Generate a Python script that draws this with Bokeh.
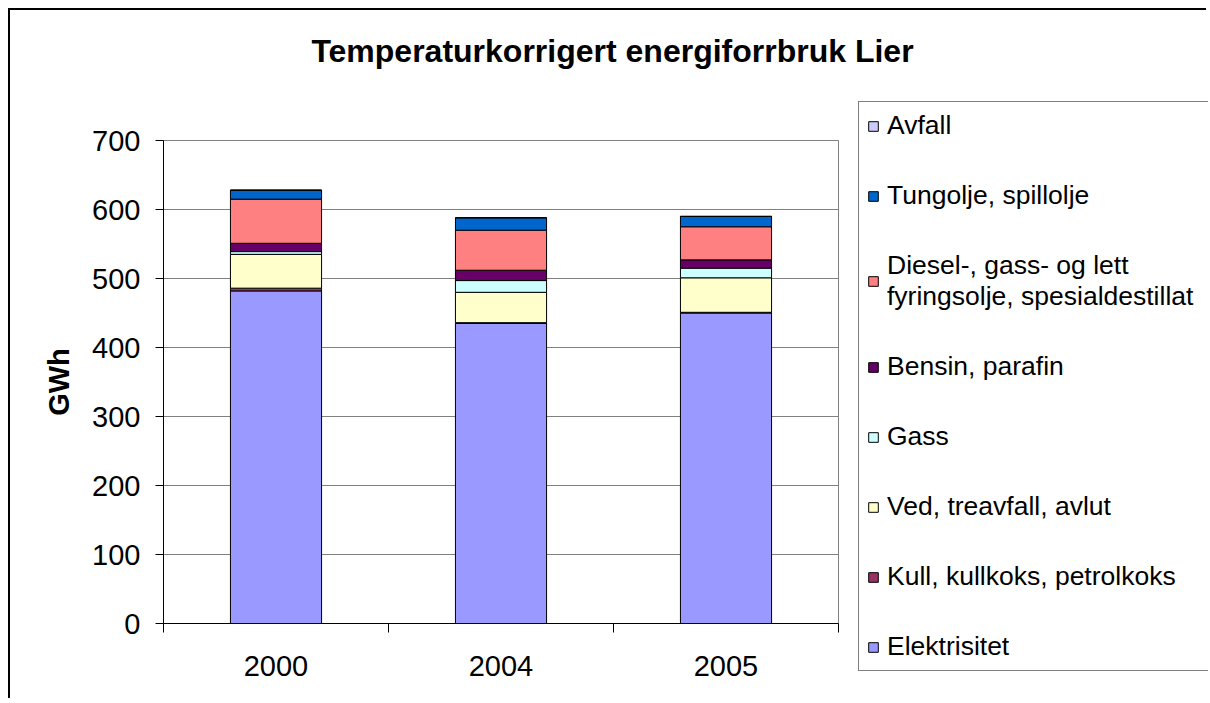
from bokeh.plotting import figure
from bokeh.models import (ColumnDataSource, Legend, LegendItem, FixedTicker, Range1d,
                          Label, LinearAxis)
from bokeh.embed import file_html
from bokeh.resources import INLINE

years = ["2000", "2004", "2005"]
series = [
    "Elektrisitet",
    "Kull, kullkoks, petrolkoks",
    "Ved, treavfall, avlut",
    "Gass",
    "Bensin, parafin",
    "Diesel-, gass- og lett\nfyringsolje, spesialdestillat",
    "Tungolje, spillolje",
    "Avfall",
]
elektrisitet = [482, 435, 450]
kull = [4, 1, 1]
ved = [49, 44, 50]
gass = [4, 17, 14]
bensin = [12, 15, 12]
diesel = [64, 58, 48]
tungolje = [13, 18, 15]
avfall = [0, 0, 0]
y_ticks = [0, 100, 200, 300, 400, 500, 600, 700]
colors = ["#9999FF", "#993366", "#FFFFCC", "#CCFFFF", "#660066", "#FF8080", "#0066CC", "#CCCCFF"]
title_text = "Temperaturkorrigert energiforrbruk Lier"

FONT = "Liberation Sans"

# ---- layout (canvas pixels, origin top-left) ----
CW, CH = 1198, 690
AX_L, AX_R, AX_T, AX_B = 153, 828, 130, 613
n = len(years)
ymax = y_ticks[-1]
sx = (AX_R - AX_L) / n
sy = (AX_B - AX_T) / ymax
x_range = Range1d(-AX_L / sx, n + (CW - AX_R) / sx)
y_range = Range1d(-(CH - AX_B) / sy, ymax + AX_T / sy)

keys = ["s%d" % i for i in range(len(series))]
data = {"x": [i + 0.5 for i in range(n)]}
for k, vals in zip(keys, [elektrisitet, kull, ved, gass, bensin, diesel, tungolje, avfall]):
    data[k] = vals
src = ColumnDataSource(data)

p = figure(width=CW, height=CH, x_range=x_range, y_range=y_range,
           output_backend="svg", toolbar_location=None,
           x_axis_location=None, y_axis_location=None, min_border=0)
p.styles = {"border-left": "2px solid black", "border-top": "2px solid black",
            "margin-left": "8px", "margin-top": "8px"}
p.background_fill_color = "white"
p.border_fill_color = "white"
p.outline_line_color = None
p.grid.visible = False

# plot-area gridlines (inside the plot area only)
grid_y = y_ticks[1:-1]
p.segment(x0=[0] * len(grid_y), x1=[n] * len(grid_y), y0=grid_y, y1=grid_y,
          line_color="#808080", line_width=1)

rs = p.vbar_stack(keys, x="x", width=0.405, source=src, fill_color=colors,
                  line_color="black", line_width=1)

# plot-area border
p.quad(left=[0], right=[n], bottom=[0], top=[ymax], fill_color=None,
       line_color="#808080", line_width=1)

# x axis: labels at centres, ticks at category boundaries
xaxis = LinearAxis(fixed_location=0, bounds=(0, n))
xaxis.ticker = FixedTicker(ticks=[i + 0.5 for i in range(n)],
                           minor_ticks=[float(i) for i in range(n + 1)])
xaxis.major_label_overrides = {i + 0.5: y for i, y in enumerate(years)}
xaxis.major_tick_line_color = None
xaxis.major_tick_out = 0
xaxis.major_tick_in = 0
xaxis.minor_tick_out = 9
xaxis.minor_tick_in = 0
xaxis.minor_tick_line_color = "black"
xaxis.axis_line_color = "black"
xaxis.major_label_text_font = FONT
xaxis.major_label_text_font_size = "29px"
xaxis.major_label_text_color = "black"
xaxis.major_label_standoff = 23
p.add_layout(xaxis, "below")

yaxis = LinearAxis(fixed_location=0, bounds=(0, ymax))
yaxis.ticker = FixedTicker(ticks=y_ticks)
yaxis.minor_tick_line_color = None
yaxis.major_tick_out = 8
yaxis.major_tick_in = 0
yaxis.axis_line_color = "black"
yaxis.major_label_text_font = FONT
yaxis.major_label_text_font_size = "29px"
yaxis.major_label_text_color = "black"
yaxis.major_label_standoff = 15
yaxis.axis_label = "GWh"
yaxis.axis_label_text_font = FONT
yaxis.axis_label_text_font_size = "29px"
yaxis.axis_label_text_font_style = "bold"
yaxis.axis_label_text_color = "black"
yaxis.axis_label_standoff = 14
p.add_layout(yaxis, "left")

# title (centre x=602, baseline y=40 in canvas pixels)
title = Label(x=(602 - AX_L) / sx, y=ymax + (AX_T - 40) / sy,
              text=title_text, text_font=FONT, text_font_size="32px",
              text_font_style="bold", text_align="center",
              text_baseline="alphabetic", text_color="black")
p.add_layout(title)

items = [LegendItem(label=s, renderers=[r]) for s, r in zip(series, rs)][::-1]
legend = Legend(items=items, location=(848, 29), label_text_font=FONT,
                label_text_font_size="26.5px", label_text_color="black",
                glyph_width=12, glyph_height=12, label_standoff=8, spacing=39,
                label_width=313, padding=8, margin=0,
                border_line_color="black", border_line_width=1,
                background_fill_color="white", background_fill_alpha=1.0)
p.add_layout(legend)

open("out.html", "w").write(file_html(p, INLINE))
